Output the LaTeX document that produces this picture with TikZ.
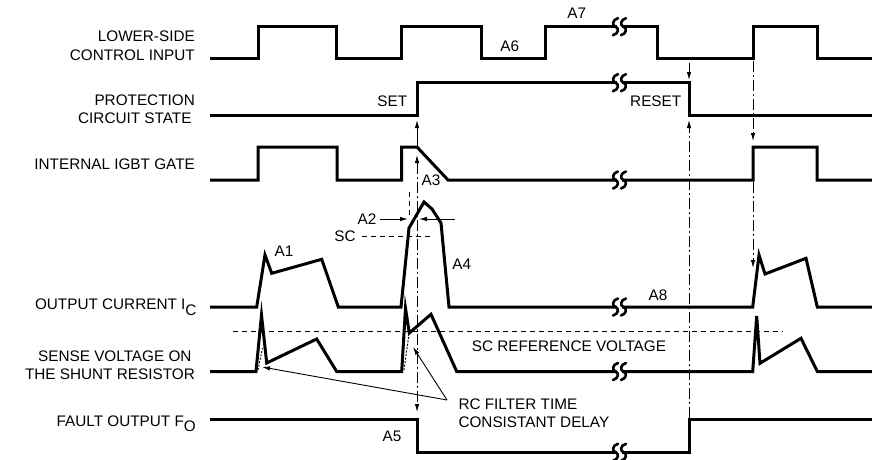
\documentclass[tikz,border=0pt]{standalone}
\usepackage{fontspec}
\setmainfont{Liberation Sans}
\usetikzlibrary{arrows.meta}
\begin{document}
\begin{tikzpicture}[x=1pt,y=-1pt,
  sig/.style={line width=3pt, line join=miter},
  thinln/.style={line width=0.9pt},
  dashdot/.style={line width=0.9pt, dash pattern=on 11pt off 3pt on 2pt off 3pt},
  dsh/.style={line width=0.9pt, dash pattern=on 5pt off 4pt},
  tipend/.style={-{Latex[length=8pt,width=4.5pt]}},
  lbl/.style={font=\fontsize{15.3}{19}\selectfont, inner sep=0pt},
  brkmark/.pic={
    \fill[white] (-2.8,-2.6) rectangle (2.8,2.6);
    \foreach \cx in {-4,4}{
      \draw[line width=2.6pt, line cap=round]
        (\cx+2.5,-8.5) .. controls (\cx-3.5,-7) and (\cx-3.5,-1) .. (\cx,0)
        .. controls (\cx+3.5,1) and (\cx+3.5,7) .. (\cx-2.5,8.5);
    }
  }
]
\useasboundingbox (0,0) rectangle (872,460);

% row labels
\node[lbl, anchor=base east] (l1a) at (195,41.7) {LOWER-SIDE};
\node[lbl, anchor=base east] (l1b) at (195,60.7) {CONTROL INPUT};
\node[lbl, anchor=base east] (l2a) at (195,105) {PROTECTION};
\node[lbl, anchor=base east] (l2b) at (191.7,123.3) {CIRCUIT STATE};
\node[lbl, anchor=base east] (l3) at (195,169.5) {INTERNAL IGBT GATE};
\node[lbl, anchor=base east] (l4) at (196.7,309.3) {OUTPUT CURRENT I\raisebox{-6pt}{C}};
\node[lbl, anchor=base east] (l5a) at (191.7,361) {SENSE VOLTAGE ON};
\node[lbl, anchor=base east] (l5b) at (195,379.3) {THE SHUNT RESISTOR};
\node[lbl, anchor=base east] (l6) at (196,426.7) {FAULT OUTPUT F\raisebox{-5pt}{O}};

% inner labels
\node[lbl, anchor=base] (a7) at (576.7,18.3) {A7};
\node[lbl, anchor=base] (a6) at (509.7,51.7) {A6};
\node[lbl, anchor=base east] (set) at (407.3,106) {SET};
\node[lbl, anchor=base west] (reset) at (630,106) {RESET};
\node[lbl, anchor=base] (a3) at (431,185) {A3};
\node[lbl, anchor=base] (a2) at (367,224) {A2};
\node[lbl, anchor=base] (sc) at (345,241.7) {SC};
\node[lbl, anchor=base] (a4) at (461.7,269.3) {A4};
\node[lbl, anchor=base] (a1) at (284,256.7) {A1};
\node[lbl, anchor=base] (a8) at (658,300.7) {A8};
\node[lbl, anchor=base] (a5) at (392,441.7) {A5};
\node[lbl, anchor=base west] (scref) at (471.7,351.7) {SC REFERENCE VOLTAGE};
\node[lbl, anchor=base west] (rc1) at (458.3,409.3) {RC FILTER TIME};
\node[lbl, anchor=base west] (rc2) at (458.3,427.3) {CONSISTANT DELAY};

% signals
\draw[sig] (210,59) -- (258,59) -- (258,26.7) -- (336.7,26.7) -- (336.7,59) -- (401.7,59) -- (401.7,26.7) -- (481.7,26.7) -- (481.7,59) -- (545.7,59) -- (545.7,26.7) -- (657,26.7) -- (657,59) -- (753,59) -- (753,26.7) -- (817,26.7) -- (817,59) -- (872,59);
\draw[sig] (210,115.7) -- (417,115.7) -- (417,82.7) -- (689,82.7) -- (689,115.7) -- (872,115.7);
\draw[sig] (210,180) -- (258,180) -- (258,147) -- (337,147) -- (337,180) -- (401.7,180) -- (401.7,147) -- (417,147) -- (448,180) -- (753,180) -- (753,147) -- (817,147) -- (817,180) -- (872,180);
\draw[sig] (210,307) -- (256.7,307) -- (265,255) -- (271.7,273.3) -- (321.7,259.3) -- (338.3,307) -- (401,307) -- (409,228) -- (424,202) -- (432,209) -- (441,223) -- (449,307) -- (752.7,307) -- (759,255) -- (765,274) -- (806,258.3) -- (817.3,307) -- (872,307);
\draw[sig] (210,371.5) -- (256,371.5) -- (261.5,315) -- (266.7,363) -- (316.7,339) -- (336.7,371.5) -- (401.7,371.5) -- (405.5,308.3) -- (409.3,333) -- (431,314.3) -- (456.7,371.5) -- (752.7,371.5) -- (756.7,316) -- (760,363.3) -- (801,338.3) -- (817.3,371.5) -- (872,371.5);
\draw[sig] (210,419.5) -- (417,419.5) -- (417,452.3) -- (689,452.3) -- (689,419.5) -- (872,419.5);

% break marks
\foreach \yy in {26.7,82.7,180,307,371.5,452.3}
  \pic at (619.5,\yy) {brkmark};

% reference and measurement lines
\coordinate (refL) at (233,331);
\coordinate (refR) at (783,331);
\draw[dsh] (refL) -- (refR);
\coordinate (scL) at (362,236);
\coordinate (scR) at (432,236);
\draw[dsh] (scL) -- (scR);
\coordinate (scT) at (409,192);
\coordinate (scB) at (409,219);
\draw[dsh] (scT) -- (scB);

% A2 arrows
\coordinate (a2s) at (380,219);
\coordinate (a2e) at (408,219);
\coordinate (a2s2) at (455,219);
\coordinate (a2e2) at (419,219);
\draw[thinln, tipend] (a2s) -- (a2e);
\draw[thinln, tipend] (a2s2) -- (a2e2);

% dash-dot timing lines
\coordinate (v1b) at (417,412);
\coordinate (v1t) at (417,155);
\draw[dashdot, {Latex[length=8pt,width=4.5pt]}-{Latex[length=8pt,width=4.5pt]}] (v1t) -- (v1b);
\coordinate (v2b) at (417,146);
\coordinate (v2t) at (417,120);
\draw[thinln, tipend] (v2b) -- (v2t);
\coordinate (v3t) at (689,63);
\coordinate (v3b) at (689,80);
\draw[thinln, tipend] (v3t) -- (v3b);
\coordinate (v4b) at (689,418);
\coordinate (v4t) at (689,120);
\draw[dashdot, tipend] (v4b) -- (v4t);
\coordinate (v5t) at (753,61);
\coordinate (v5b) at (753,141);
\draw[dashdot, tipend] (v5t) -- (v5b);
\coordinate (v6t) at (753,182);
\coordinate (v6b) at (753,268);
\draw[dashdot, tipend] (v6t) -- (v6b);

% RC filter curves and pointers
\draw[thinln, dash pattern=on 2pt off 1.5pt] (258,370) -- (262.5,348);
\draw[thinln, dash pattern=on 2pt off 1.5pt] (404,370) -- (409,334);
\coordinate (rcs) at (447,400);
\coordinate (rce1) at (262,367);
\coordinate (rce2) at (413,347);
\draw[thinln, tipend] (rcs) -- (rce1);
\draw[thinln, tipend] (rcs) -- (rce2);
\end{tikzpicture}
\end{document}
